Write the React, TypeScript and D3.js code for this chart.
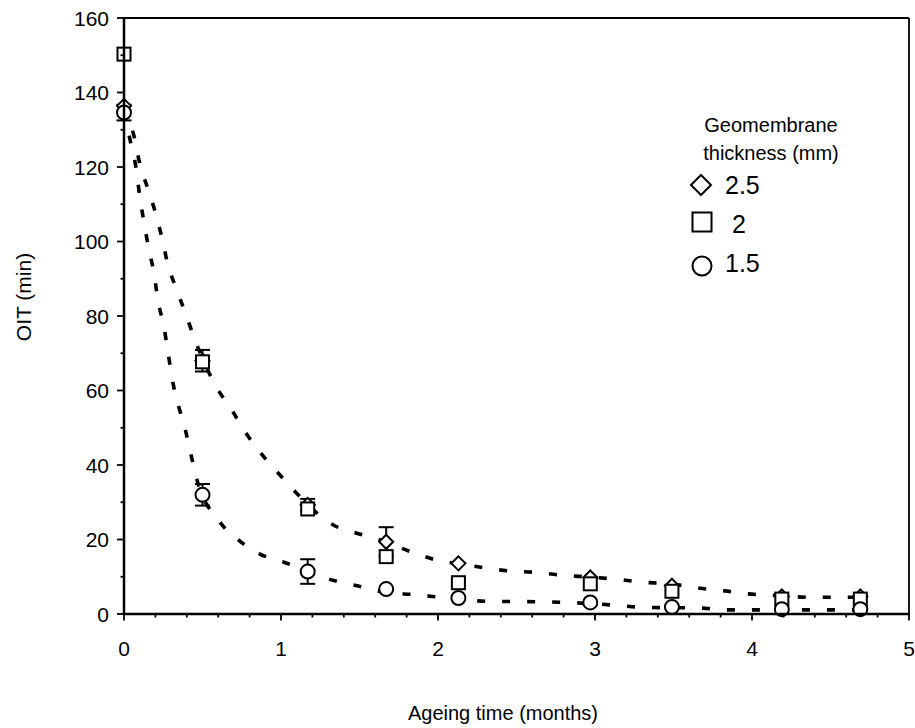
import React from "react";
import * as d3 from "d3";

// ---- data ----
const ageingMonths = [0, 0.5, 1.17, 1.67, 2.13, 2.97, 3.49, 4.19, 4.69];
const oit25 = [136.4, 68.0, 29.3, 19.4, 13.6, 9.8, 7.6, 4.7, 4.7];
const oit20 = [150.3, 67.7, 28.2, 15.4, 8.4, 8.1, 6.1, 4.0, 4.0];
const oit15 = [134.6, 32.0, 11.4, 6.7, 4.3, 3.1, 1.9, 1.3, 1.3];
const err25 = [0, 2.9, 1.6, 3.9, 0, 0, 0, 0, 0];
const err15 = [2.1, 2.9, 3.3, 0, 0, 0, 0, 0, 0];

// fitted (dashed) curves
const fitUpperX = [0, 0.062, 0.1, 0.153, 0.2, 0.242, 0.28, 0.333, 0.395, 0.452, 0.589, 0.686, 0.771, 0.873, 0.983, 1.1, 1.333, 1.482, 1.63, 1.854, 2.008, 2.151, 2.31, 2.465, 2.618, 2.771, 2.926, 3.148, 3.308, 3.457, 3.673, 3.828, 3.976, 4.136, 4.369, 4.7];
const fitUpperY = [136, 128.6, 121, 114, 107.8, 100.9, 93.7, 87.4, 80.3, 73.6, 60.9, 54.8, 48.9, 43.1, 37.8, 32.4, 23.9, 21.7, 19.9, 16.3, 14.3, 13.4, 12.3, 11.5, 11.2, 10.5, 10.0, 9.3, 8.5, 8.2, 6.9, 6.2, 5.4, 5.0, 4.5, 4.5];
const fitLowerX = [0, 0.043, 0.078, 0.1, 0.127, 0.157, 0.191, 0.217, 0.252, 0.28, 0.306, 0.344, 0.389, 0.427, 0.465, 0.601, 0.734, 0.866, 1.019, 1.344, 1.492, 1.694, 1.854, 2.008, 2.151, 2.31, 2.618, 2.926, 3.148, 3.308, 3.673, 3.828, 4.529, 4.7];
const fitLowerY = [135, 126.4, 119.4, 112.2, 105.3, 98.2, 91.5, 84, 77.6, 70.4, 63.3, 56.4, 49.7, 42.7, 36, 25.2, 19.7, 16.1, 13.9, 8.9, 7.5, 5.6, 5.2, 4.5, 3.9, 3.4, 3.3, 2.9, 2.3, 1.8, 1.6, 1.1, 1.1, 1.1];

const xTicks = [0, 1, 2, 3, 4, 5];
const yTicks = [0, 20, 40, 60, 80, 100, 120, 140, 160];
const legendTitle = ["Geomembrane", "thickness (mm)"];
const legendLabels = ["2.5", " 2", "1.5"];

const FONT = "'Liberation Sans', Arial, sans-serif";

export default function App() {
  const W = 915, H = 728;
  const x = d3.scaleLinear().domain([0, 5]).range([124, 909]);
  const y = d3.scaleLinear().domain([0, 160]).range([614, 18]);

  const line = d3
    .line<[number, number]>()
    .x((d) => x(d[0]))
    .y((d) => y(d[1]))
    .curve(d3.curveMonotoneX);

  const upper = line(fitUpperX.map((v, i) => [v, fitUpperY[i]] as [number, number])) || "";
  const lower = line(fitLowerX.map((v, i) => [v, fitLowerY[i]] as [number, number])) || "";

  const xMinor = d3.range(0, 5.0001, 0.2);
  const yMinor = d3.range(0, 160.001, 10);

  const diamond = (cx: number, cy: number, r = 7) =>
    `M${cx},${cy - r}L${cx + r},${cy}L${cx},${cy + r}L${cx - r},${cy}Z`;

  const errBar = (xi: number, v: number, e: number, key: string) => {
    if (!e) return null;
    const cx = x(xi);
    const t = y(v + e), b = y(v - e);
    return (
      <g key={key} stroke="#000" strokeWidth={2}>
        <line x1={cx} x2={cx} y1={t} y2={b} />
        <line x1={cx - 7.5} x2={cx + 7.5} y1={t} y2={t} />
        <line x1={cx - 7.5} x2={cx + 7.5} y1={b} y2={b} />
      </g>
    );
  };

  const legendY = [185, 222, 266];

  return (
    <svg
      width={W}
      height={H}
      style={{ position: "absolute", left: 0, top: 0, background: "#fff" }}
      fontFamily={FONT}
    >
      <rect width={W} height={H} fill="#fff" />
      {/* frame */}
      <line x1={124} x2={909} y1={18} y2={18} stroke="#000" strokeWidth={1.8} />
      <line x1={909} x2={909} y1={18} y2={614} stroke="#000" strokeWidth={1.8} />

      {/* curves */}
      <path d={upper} fill="none" stroke="#000" strokeWidth={3.6} strokeDasharray="8 17" />
      <path d={lower} fill="none" stroke="#000" strokeWidth={3.6} strokeDasharray="8 17" />

      {/* error bars */}
      {ageingMonths.map((m, i) => errBar(m, oit25[i], err25[i], "e25" + i))}
      {ageingMonths.map((m, i) => errBar(m, oit15[i], err15[i], "e15" + i))}

      {/* markers */}
      {ageingMonths.map((m, i) => (
        <path key={"d" + i} d={diamond(x(m), y(oit25[i]))} fill="#fff" stroke="#000" strokeWidth={2} />
      ))}
      {ageingMonths.map((m, i) => (
        <rect key={"s" + i} x={x(m) - 6.5} y={y(oit20[i]) - 6.5} width={13} height={13} fill="#fff" stroke="#000" strokeWidth={2} />
      ))}
      {ageingMonths.map((m, i) => (
        <circle key={"c" + i} cx={x(m)} cy={y(oit15[i])} r={7} fill="#fff" stroke="#000" strokeWidth={2} />
      ))}

      {/* axes */}
      <line x1={124} x2={124} y1={18} y2={615} stroke="#000" strokeWidth={2.5} />
      <line x1={123} x2={910} y1={614} y2={614} stroke="#000" strokeWidth={2.5} />
      {yMinor.map((v) => (
        <line key={"ym" + v} x1={124} x2={v % 20 === 0 ? 117 : 120.5} y1={y(v)} y2={y(v)} stroke="#000" strokeWidth={1.8} />
      ))}
      {xMinor.map((v) => {
        const major = Math.abs(v - Math.round(v)) < 1e-6;
        return (
          <line key={"xm" + v} x1={x(v)} x2={x(v)} y1={614} y2={major ? 620.5 : 617.5} stroke="#000" strokeWidth={1.8} />
        );
      })}
      {yTicks.map((v) => (
        <text key={"yt" + v} x={109} y={y(v)} dy="0.36em" textAnchor="end" fontSize={21}>
          {v}
        </text>
      ))}
      {xTicks.map((v) => (
        <text key={"xt" + v} x={x(v)} y={656} textAnchor="middle" fontSize={21}>
          {v}
        </text>
      ))}
      <text x={503} y={720} textAnchor="middle" fontSize={20}>
        Ageing time (months)
      </text>
      <text transform="translate(31,297) rotate(-90)" textAnchor="middle" fontSize={21}>
        OIT (min)
      </text>

      {/* legend */}
      {legendTitle.map((t, i) => (
        <text key={"lt" + i} x={771} y={132 + i * 28} textAnchor="middle" fontSize={20}>
          {t}
        </text>
      ))}
      <path d={diamond(701, legendY[0], 10)} fill="#fff" stroke="#000" strokeWidth={2} />
      <rect x={692.5} y={legendY[1] - 9.5} width={19} height={19} fill="#fff" stroke="#000" strokeWidth={2} />
      <circle cx={702} cy={legendY[2]} r={9.5} fill="#fff" stroke="#000" strokeWidth={2} />
      {legendLabels.map((t, i) => (
        <text key={"ll" + i} x={725} y={[193.5, 232.5, 271.5][i]} fontSize={25} style={{ whiteSpace: "pre" }}>
          {t}
        </text>
      ))}
    </svg>
  );
}
